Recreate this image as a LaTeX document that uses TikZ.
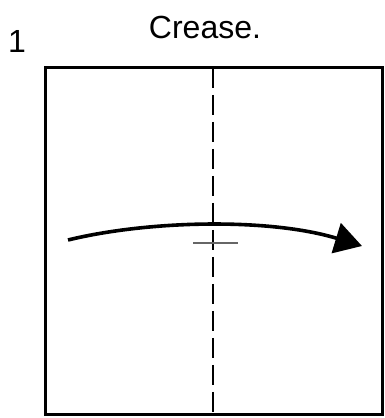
\documentclass[tikz,border=0pt]{standalone}
\usepackage{fontspec}
\setmainfont{Liberation Sans}
\usetikzlibrary{arrows.meta}
\begin{document}
\begin{tikzpicture}[x=1pt,y=1pt,
  paper/.style={draw=black,line width=3pt},
  crease/.style={draw=black,line width=2.3pt,dash pattern=on 20pt off 7pt},
  foldarrow/.style={draw=black,line width=3.6pt,-{Triangle[length=27pt,width=31pt]}},
  tick/.style={draw=black!60,line width=1.8pt},
  lbl/.style={inner sep=0pt,font=\fontsize{32}{36}\selectfont}]
\useasboundingbox (0,0) rectangle (385,418);
\coordinate (sqA) at (45,3);
\coordinate (sqB) at (382,350);
\draw[paper] (sqA) rectangle (sqB);
\coordinate (cTop) at (213,350);
\coordinate (cBot) at (213,3);
\draw[crease] (cTop) -- (cBot);
\coordinate (aS) at (68,178);
\coordinate (aE) at (362,172);
\draw[foldarrow] (aS) .. controls (150,198) and (270,200) .. (aE);
\coordinate (tL) at (193,175);
\coordinate (tR) at (238,175);
\draw[tick] (tL) -- (tR);
\node[lbl] (title) at (205,391) {Crease.};
\node[lbl] (num) at (17,377) {1};
\end{tikzpicture}
\end{document}
